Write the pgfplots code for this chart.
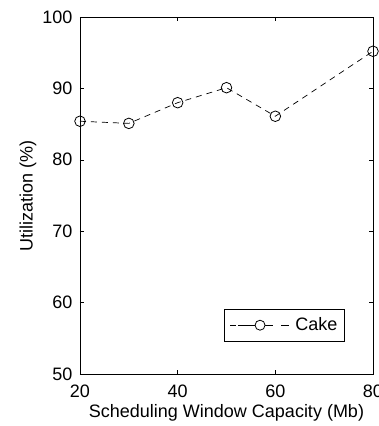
\documentclass[border=0pt]{standalone}
\usepackage{pgfplots}
\pgfplotsset{compat=1.18}
\usepackage{fontspec}
\setmainfont{Liberation Sans}
\begin{document}
\begin{tikzpicture}
\path[use as bounding box] (-80pt,-52pt) rectangle (298pt,374pt);
\begin{axis}[
  at={(0,0)}, anchor=south west,
  scale only axis, width=293pt, height=357pt,
  xmin=20, xmax=80, ymin=50, ymax=100,
  xtick={20,40,60,80}, ytick={50,60,...,100},
  tick align=inside, major tick length=4pt,
  tick style={black, line width=0.6pt},
  axis line style={line width=0.9pt},
  font=\fontsize{18}{20}\selectfont,
  /pgf/number format/assume math mode=true,
  xticklabel style={yshift=-7pt},
  yticklabel style={xshift=-4pt},
  xlabel={Scheduling Window Capacity (Mb)},
  ylabel={Utilization (\%)},
  xlabel style={at={(axis description cs:0.5,0)}, anchor=center, yshift=-39pt},
  ylabel style={at={(axis description cs:0,0.5)}, anchor=center, rotate=0, yshift=52pt},
  legend style={at={(0.904,0.09)}, anchor=south east, draw=black, line width=0.8pt,
    font=\fontsize{18}{20}\selectfont, inner xsep=5pt, inner ysep=7pt},
  legend image code/.code={
    \path (-8pt,0pt) -- (0pt,0pt);
    \draw[black, solid, line width=0.8pt] (0pt,0pt) -- (35pt,0pt);
    \draw[black, solid, line width=0.8pt] (43pt,0pt) -- (51pt,0pt);
    \draw[black, solid, line width=0.8pt, fill=white] (22pt,0pt) circle (5pt);
  },
  legend cell align=left,
]
\addplot[black, dashed, dash pattern=on 6pt off 5pt, line width=0.7pt, mark=o, mark size=5.3pt, mark options={solid, line width=0.8pt}]
  coordinates {(20,85.4) (30,85.1) (40,88.0) (50,90.1) (60,86.1) (80,95.2)};
\addlegendentry{\hspace{4pt}Cake}
\end{axis}
\end{tikzpicture}
\end{document}
